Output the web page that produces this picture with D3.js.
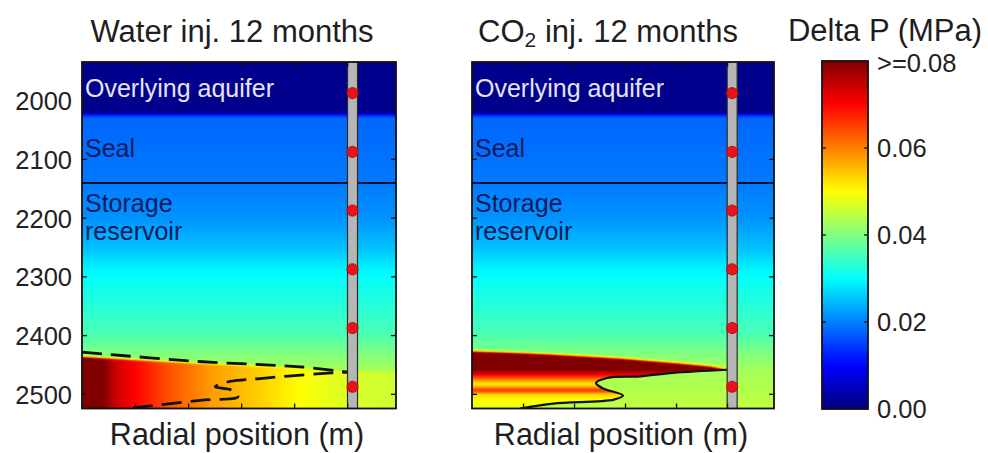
<!DOCTYPE html>
<html>
<head>
<meta charset="utf-8">
<script src="https://cdn.jsdelivr.net/npm/d3@7"></script>
<style>
  html, body { margin: 0; padding: 0; background: #fff; }
  svg { display: block; }
  text { font-family: "Liberation Sans", Arial, Helvetica, sans-serif; fill: #1e1e1e; }
</style>
</head>
<body>
<svg id="chart" width="988" height="453"></svg>
<script>
// ---- axes ----
const depthDomain = [1935, 2525];            // m
const depthTicks = [2000, 2100, 2200, 2300, 2400, 2500];
const radialDomain = [0, 5.92];
const radialTicks = [1, 2, 3, 4, 5];
const wellRadial = 5.1;
const sensorDepths = [1988, 2088, 2188, 2288, 2388, 2488];

// ---- layers ----
const layerNames = ["Overlying aquifer", "Seal", "Storage reservoir"];
const layerTopDepths = [1935, 2023, 2141];

// ---- colour scale (Delta P, MPa) ----
const dpTicks = [0, 0.02, 0.04, 0.06, 0.08];
const dpTickLabels = ["0.00", "0.02", "0.04", "0.06", ">=0.08"];

// ---- background pressure change with depth (far field) ----
const bgDepth = [1935, 2022, 2023.5, 2026, 2031, 2140, 2200, 2250, 2280, 2297, 2350, 2400, 2430, 2460, 2525];
const bgDp    = [0.001, 0.001, 0.009, 0.013, 0.018, 0.0195, 0.0215, 0.025, 0.0285, 0.030, 0.033, 0.036, 0.040, 0.043, 0.045];

// ---- water injection: pressurised zone ----
const waterPlumeR   = [0, 1, 2, 3, 4, 5.1, 5.92];
const waterPlumeTop = [2437, 2442, 2447, 2451, 2456, 2462, 2462];
const waterRadialR  = [0, 0.4, 0.7, 1.1, 1.6, 2.4, 3.3, 4.1, 4.7, 5.1, 5.92];
const waterRadialDp = [0.085, 0.080, 0.073, 0.069, 0.064, 0.058, 0.054, 0.050, 0.048, 0.047, 0.046];
// dashed front contours
const waterFrontUpperR = [0, 2.2, 4.1, 5.0];
const waterFrontUpperD = [2429, 2445, 2454, 2463];
const waterFrontLowerR = [0.96, 2.23, 2.94, 2.83, 2.51, 2.79, 3.36, 4.43, 5.0];
const waterFrontLowerD = [2524, 2511, 2505, 2494, 2488, 2479, 2474, 2466, 2463];

// ---- CO2 injection: pressurised band ----
const co2BandTopR = [0, 1.53, 2.9, 4.08, 4.67, 5.0];
const co2BandTopD = [2426.5, 2433, 2440, 2448.6, 2453.7, 2459];
const co2FrontR = [5.0, 3.94, 3.29, 2.65, 2.43, 2.55, 2.96, 2.78, 1.59, 0.94];
const co2FrontD = [2459, 2464.4, 2470.2, 2473, 2481.4, 2490, 2503, 2509.8, 2516.6, 2525];
const co2CoreD  = [2420, 2426, 2430, 2433, 2457, 2461, 2466, 2471, 2477, 2483, 2487, 2491, 2494, 2497, 2501, 2510, 2525];
const co2CoreDp = [0.050, 0.060, 0.080, 0.085, 0.085, 0.078, 0.073, 0.066, 0.058, 0.052, 0.055, 0.062, 0.066, 0.062, 0.053, 0.050, 0.048];

// ------------------------------------------------------------
const svg = d3.select("#chart");

const jet = d3.scaleLinear()
  .domain([0, 0.01, 0.03, 0.05, 0.07, 0.08])
  .range(["#000080", "#0000ff", "#00ffff", "#ffff00", "#ff0000", "#800000"])
  .clamp(true);

// lookup table for fast pixel colouring
const LUT_N = 1024;
const lut = d3.range(LUT_N).map(i => d3.rgb(jet(i / (LUT_N - 1) * 0.08)));

const bgScale = d3.scaleLinear().domain(bgDepth).range(bgDp).clamp(true);
const sig = z => 1 / (1 + Math.exp(-z));

const waterTop = d3.scaleLinear().domain(waterPlumeR).range(waterPlumeTop).clamp(true);
const waterRadial = d3.scaleLinear().domain(waterRadialR).range(waterRadialDp).clamp(true);
function waterField(r, d) {
  const b = bgScale(d);
  const s = sig((d - waterTop(r)) / 1.0);
  return b + (waterRadial(r) - b) * s;
}

const co2Top = d3.scaleLinear().domain(co2BandTopR).range(co2BandTopD).clamp(true);
const co2Core = d3.scaleLinear().domain(co2CoreD).range(co2CoreDp).clamp(true);
const co2Poly = [[co2FrontR[0], 2380]]
  .concat(co2FrontR.map((r, i) => [r, co2FrontD[i]]))
  .concat([[0, depthDomain[1] + 5], [0, 2380]]);
function co2Field(r, d) {
  const b = bgScale(d);
  if (!d3.polygonContains(co2Poly, [r, d])) return b;
  const s = sig((d - co2Top(r)) / 1.2);
  return b + (co2Core(d) - b) * s;
}

function fieldImage(x, y, fn) {
  const [x0, x1] = x.range(), [y0, y1] = y.range();
  const w = Math.round(x1 - x0), h = Math.round(y1 - y0);
  const cv = document.createElement("canvas");
  cv.width = w; cv.height = h;
  const ctx = cv.getContext("2d");
  const img = ctx.createImageData(w, h);
  for (let j = 0; j < h; j++) {
    const d = y.invert(y0 + (j + 0.5) * (y1 - y0) / h);
    for (let i = 0; i < w; i++) {
      const r = x.invert(x0 + (i + 0.5) * (x1 - x0) / w);
      let v = fn(r, d);
      v = Math.max(0, Math.min(0.08, v));
      const c = lut[Math.round(v / 0.08 * (LUT_N - 1))];
      const k = (j * w + i) * 4;
      img.data[k] = c.r; img.data[k + 1] = c.g; img.data[k + 2] = c.b; img.data[k + 3] = 255;
    }
  }
  ctx.putImageData(img, 0, 0);
  return cv.toDataURL();
}

const y = d3.scaleLinear().domain(depthDomain).range([62, 408.5]);

const panels = [
  { id: "water", x: d3.scaleLinear().domain(radialDomain).range([82, 396]), field: waterField,
    title: "water", titleX: 232 },
  { id: "co2", x: d3.scaleLinear().domain(radialDomain).range([472, 774]), field: co2Field,
    title: "co2", titleX: 608 }
];

const labelOffsets = [[35], [43], [29, 57]];
const labelFill = ["#e4e4f4", "#0b1a5a", "#0b1a5a"];

panels.forEach((p, pi) => {
  const x = p.x;
  const [x0, x1] = x.range();
  const [y0, y1] = y.range();
  const g = svg.append("g");

  g.append("clipPath").attr("id", "clip-" + p.id)
    .append("rect").attr("x", x0).attr("y", y0).attr("width", x1 - x0).attr("height", y1 - y0);

  g.append("image")
    .attr("x", x0).attr("y", y0)
    .attr("width", x1 - x0).attr("height", y1 - y0)
    .attr("preserveAspectRatio", "none")
    .attr("href", fieldImage(x, y, p.field));

  const inner = g.append("g").attr("clip-path", `url(#clip-${p.id})`);

  // seal / storage boundary
  inner.append("line")
    .attr("x1", x0).attr("x2", x1)
    .attr("y1", y(layerTopDepths[2])).attr("y2", y(layerTopDepths[2]))
    .attr("stroke", "#06102e").attr("stroke-width", 2);

  // layer labels
  layerNames.forEach((name, li) => {
    const words = li === 2 ? ["Storage", "reservoir"] : [name];
    words.forEach((w, wi) => {
      inner.append("text")
        .attr("x", x0 + 3)
        .attr("y", y(layerTopDepths[li]) + labelOffsets[li][wi])
        .attr("font-size", 25)
        .style("fill", labelFill[li])
        .text(w);
    });
  });

  // front contours
  const line = d3.line().x(d => x(d[0])).y(d => y(d[1])).curve(d3.curveCatmullRom.alpha(0.5));
  if (p.id === "water") {
    [[waterFrontUpperR, waterFrontUpperD], [waterFrontLowerR, waterFrontLowerD]].forEach(([rr, dd]) => {
      inner.append("path")
        .attr("d", line(rr.map((r, i) => [r, dd[i]])))
        .attr("fill", "none").attr("stroke", "#111").attr("stroke-width", 2.8)
        .attr("stroke-dasharray", "20,9");
    });
  } else {
    inner.append("path")
      .attr("d", line(co2FrontR.map((r, i) => [r, co2FrontD[i]])))
      .attr("fill", "none").attr("stroke", "#111").attr("stroke-width", 2.2);
  }

  // well and sensors
  const wx = x(wellRadial);
  inner.append("rect")
    .attr("x", wx - 5).attr("y", y0 - 2).attr("width", 10).attr("height", y1 - y0 + 4)
    .attr("fill", "#b6b6b6").attr("stroke", "#2a2a2a").attr("stroke-width", 1.2);
  inner.selectAll("circle.sensor").data(sensorDepths).join("circle")
    .attr("class", "sensor")
    .attr("cx", wx).attr("cy", d => y(d)).attr("r", 5.6)
    .attr("fill", "#e8141a").attr("stroke", "#b00008").attr("stroke-width", 0.8);

  // axes with inward ticks
  const tickStyle = sel => {
    sel.select(".domain").remove();
    sel.selectAll(".tick line").attr("stroke", "#111").attr("stroke-width", 1.3);
  };
  const left = g.append("g").attr("transform", `translate(${x0},0)`)
    .call(d3.axisLeft(y).tickValues(depthTicks).tickSizeInner(-5).tickSizeOuter(0).tickPadding(10)
      .tickFormat(pi === 0 ? d3.format("d") : () => ""));
  left.call(tickStyle);
  left.selectAll(".tick text").attr("font-size", 25.5).attr("dy", "0.37em").style("fill", "#222");
  g.append("g").attr("transform", `translate(${x1},0)`)
    .call(d3.axisRight(y).tickValues(depthTicks).tickSizeInner(-5).tickSizeOuter(0).tickFormat(() => ""))
    .call(tickStyle);
  g.append("g").attr("transform", `translate(0,${y1})`)
    .call(d3.axisBottom(x).tickValues(radialTicks).tickSizeInner(-5).tickSizeOuter(0).tickFormat(() => ""))
    .call(tickStyle);
  g.append("g").attr("transform", `translate(0,${y0})`)
    .call(d3.axisTop(x).tickValues(radialTicks).tickSizeInner(-5).tickSizeOuter(0).tickFormat(() => ""))
    .call(tickStyle);

  g.append("rect")
    .attr("x", x0).attr("y", y0).attr("width", x1 - x0).attr("height", y1 - y0)
    .attr("fill", "none").attr("stroke", "#111").attr("stroke-width", 1.8);

  // titles
  if (p.title === "water") {
    g.append("text").attr("x", p.titleX).attr("y", 42).attr("text-anchor", "middle")
      .attr("font-size", 31).text("Water inj. 12 months");
  } else {
    const t = g.append("text").attr("x", p.titleX).attr("y", 42).attr("text-anchor", "middle")
      .attr("font-size", 31);
    t.append("tspan").text("CO");
    t.append("tspan").attr("font-size", 21).attr("dy", 5).text("2");
    t.append("tspan").attr("dy", -5).text(" inj. 12 months");
  }
  g.append("text").attr("x", (x0 + x1) / 2 - 2).attr("y", 445).attr("text-anchor", "middle")
    .attr("font-size", 30.5).text("Radial position (m)");
});

// ---- colour bar ----
const cbX = 822, cbW = 46;
const cbY = d3.scaleLinear().domain([0, 0.08]).range([409, 61]);
const defs = svg.append("defs");
const grad = defs.append("linearGradient").attr("id", "jetGrad")
  .attr("x1", 0).attr("y1", 1).attr("x2", 0).attr("y2", 0);
d3.range(0, 1.0001, 0.02).forEach(t => {
  grad.append("stop").attr("offset", t).attr("stop-color", jet(t * 0.08));
});
svg.append("rect").attr("x", cbX).attr("y", cbY(0.08)).attr("width", cbW)
  .attr("height", cbY(0) - cbY(0.08)).attr("fill", "url(#jetGrad)")
  .attr("stroke", "#111").attr("stroke-width", 1.8);
dpTicks.forEach((v, i) => {
  if (i > 0 && i < dpTicks.length - 1) {
    svg.append("line").attr("x1", cbX).attr("x2", cbX + 4).attr("y1", cbY(v)).attr("y2", cbY(v))
      .attr("stroke", "#111").attr("stroke-width", 1.3);
    svg.append("line").attr("x1", cbX + cbW - 4).attr("x2", cbX + cbW).attr("y1", cbY(v)).attr("y2", cbY(v))
      .attr("stroke", "#111").attr("stroke-width", 1.3);
  }
  svg.append("text").attr("x", cbX + cbW + 9).attr("y", cbY(v) + (i === dpTicks.length - 1 ? 2 : 0))
    .attr("dy", "0.37em").attr("font-size", 25.5).style("fill", "#222").text(dpTickLabels[i]);
});
svg.append("text").attr("x", 885).attr("y", 41).attr("text-anchor", "middle")
  .attr("font-size", 31).text("Delta P (MPa)");
</script>
</body>
</html>
